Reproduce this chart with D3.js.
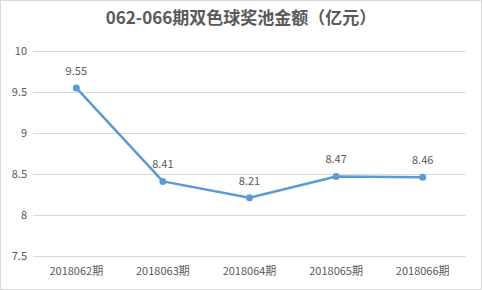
<!DOCTYPE html>
<html>
<head>
<meta charset="utf-8">
<script src="https://cdn.jsdelivr.net/npm/d3@7"></script>
<style>
body { margin: 0; background: #fff; }
text { font-family: "Microsoft YaHei", "Noto Sans CJK SC", "DejaVu Sans", sans-serif; fill: #595959; }
</style>
</head>
<body>
<div id="chart"></div>
<script>
var periods = ['2018062期', '2018063期', '2018064期', '2018065期', '2018066期'];
var pool = [9.55, 8.41, 8.21, 8.47, 8.46];
var yTicks = [7.5, 8, 8.5, 9, 9.5, 10];
var title = '062-066期双色球奖池金额（亿元）';

var width = 482, height = 290;
var svg = d3.select('#chart').append('svg')
  .attr('width', width).attr('height', height);

svg.append('rect')
  .attr('x', 0.5).attr('y', 0.5)
  .attr('width', width - 1).attr('height', height - 1)
  .attr('fill', '#fff').attr('stroke', '#d9d9d9');

svg.append('text')
  .attr('x', 241).attr('y', 24)
  .attr('text-anchor', 'middle')
  .style('font-size', '17px').style('font-weight', 'bold')
  .text(title);

var x = d3.scaleBand().domain(periods).range([33, 466]);
var y = d3.scaleLinear().domain([7.5, 10]).range([256, 51]);

// gridlines
svg.selectAll('.grid').data(yTicks).enter().append('line')
  .attr('x1', 33).attr('x2', 466)
  .attr('y1', function(d){ return Math.round(y(d)) + 0.5; })
  .attr('y2', function(d){ return Math.round(y(d)) + 0.5; })
  .attr('stroke', '#d9d9d9').attr('stroke-width', 1);

// y labels
svg.selectAll('.ylab').data(yTicks).enter().append('text')
  .attr('x', 27).attr('y', function(d){ return y(d) + 4; })
  .attr('text-anchor', 'end')
  .style('font-size', '11px')
  .text(function(d){ return d; });

// x labels
svg.selectAll('.xlab').data(periods).enter().append('text')
  .attr('x', function(d){ return x(d) + x.bandwidth() / 2; })
  .attr('y', 275)
  .attr('text-anchor', 'middle')
  .style('font-size', '11px')
  .text(function(d){ return d; });

var line = d3.line()
  .x(function(d, i){ return x(periods[i]) + x.bandwidth() / 2; })
  .y(function(d){ return y(d); });

svg.append('path').datum(pool)
  .attr('d', line)
  .attr('fill', 'none')
  .attr('stroke', '#5b9bd5')
  .attr('stroke-width', 2.5)
  .attr('stroke-linejoin', 'round');

svg.selectAll('.pt').data(pool).enter().append('circle')
  .attr('cx', function(d, i){ return x(periods[i]) + x.bandwidth() / 2; })
  .attr('cy', function(d){ return y(d); })
  .attr('r', 3.5)
  .attr('fill', '#5b9bd5');

svg.selectAll('.vlab').data(pool).enter().append('text')
  .attr('x', function(d, i){ return x(periods[i]) + x.bandwidth() / 2; })
  .attr('y', function(d){ return y(d) - 13; })
  .attr('text-anchor', 'middle')
  .style('font-size', '11px')
  .text(function(d){ return d.toFixed(2); });
</script>
</body>
</html>
